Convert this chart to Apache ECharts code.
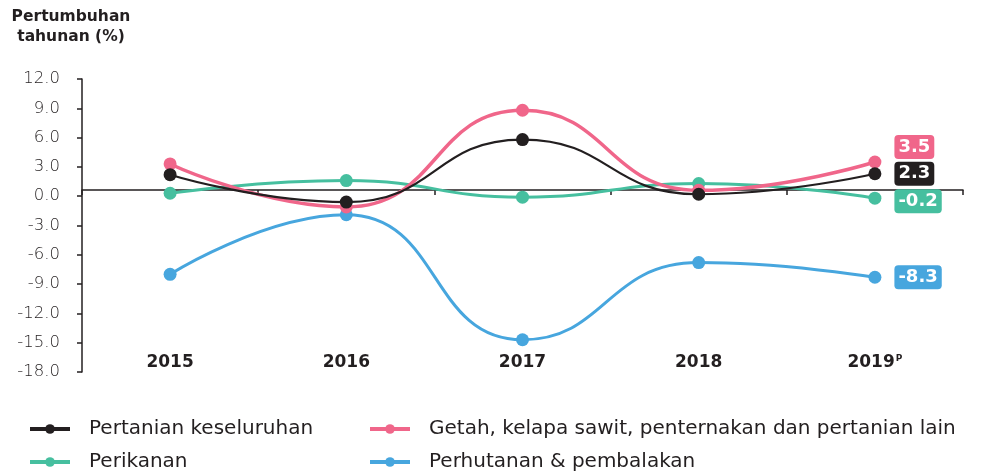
<!DOCTYPE html>
<html>
<head>
<meta charset="utf-8">
<script src="https://cdn.jsdelivr.net/npm/echarts@6/dist/echarts.min.js"></script>
<style>
    html, body {margin: 0; padding: 0; background: #fff;}
    #chart {width: 983px; height: 474px;}
</style>
</head>
<body>
<div id="chart"></div>
<script>
var years = ['2015', '2016', '2017', '2018', '2019'];
var pertanian = [2.2, -0.6, 5.8, 0.2, 2.3];
var getah = [3.3, -1.1, 8.8, 0.6, 3.5];
var perikanan = [0.3, 1.6, -0.1, 1.3, -0.2];
var perhutanan = [-8.0, -1.9, -14.7, -6.8, -8.3];
var yTicks = {min: -18, max: 12, step: 3};

var ink = '#231f20';
var font = '"DejaVu Sans", sans-serif';

// label kotak di titik terakhir
function lastLabel(arr, color, dy) {
    return arr.map(function (v, i) {
        if (i < arr.length - 1) return v;
        return {
            value: v,
            label: {
                show: true, position: 'right', distance: 13, offset: [0, dy],
                formatter: function (p) { return p.value.toFixed(1); },
                backgroundColor: color, borderRadius: 4, padding: [2, 4, 0, 4],
                color: '#fff', fontFamily: font, fontWeight: 'bold', fontSize: 18, lineHeight: 22
            }
        };
    });
}

function line(name, data, color, width, dy) {
    return {
        name: name, type: 'line', smooth: 0.5, data: lastLabel(data, color, dy),
        symbol: 'circle', symbolSize: 13,
        lineStyle: {color: color, width: width},
        itemStyle: {color: color},
        xAxisIndex: 0
    };
}

// satu legenda untuk setiap siri
function legendItem(name, left, top) {
    return {
        left: left, top: top, itemWidth: 40, itemHeight: 12, padding: 0,
        lineStyle: {width: 4},
        data: [name],
        textStyle: {fontFamily: font, fontSize: 20, color: ink, padding: [0, 0, 0, 14]}
    };
}

var chart = echarts.init(document.getElementById('chart'));
chart.setOption({
    animation: false,
    title: {
        text: 'Pertumbuhan\ntahunan (%)', left: 66, top: 2, textAlign: 'center',
        textStyle: {fontFamily: font, fontWeight: 'bold', fontSize: 15.5, lineHeight: 20, color: ink}
    },
    grid: {left: 82, right: 20, top: 79, bottom: 102},
    legend: [
        legendItem('Pertanian keseluruhan', 28, 419),
        legendItem('Perikanan', 28, 452),
        legendItem('Getah, kelapa sawit, penternakan dan pertanian lain', 368, 419),
        legendItem('Perhutanan & pembalakan', 368, 452)
    ],
    xAxis: [
        {
            type: 'category', data: years, position: 'bottom', offset: -182, boundaryGap: true,
            axisLine: {onZero: false, lineStyle: {color: ink, width: 1.5}},
            axisTick: {show: true, length: 5, inside: false, lineStyle: {color: ink, width: 1.5}},
            axisLabel: {show: false}
        },
        {
            type: 'category', data: years, position: 'bottom', offset: -18, boundaryGap: true,
            axisLine: {show: false}, axisTick: {show: false},
            axisLabel: {
                margin: 0, verticalAlign: 'top',
                formatter: function (v) { return v === '2019' ? v + '{sup|P}' : v; },
                fontFamily: font, fontWeight: 'bold', fontSize: 17, color: ink,
                rich: {sup: {fontFamily: font, fontWeight: 'bold', fontSize: 9, color: ink, verticalAlign: 'top', padding: [0, 0, 8, 1]}}
            }
        }
    ],
    yAxis: {
        type: 'value', min: yTicks.min, max: yTicks.max, interval: yTicks.step,
        axisLine: {show: true, lineStyle: {color: ink, width: 1.5}},
        axisTick: {show: true, length: 5, inside: false, lineStyle: {color: ink, width: 1.5}},
        axisLabel: {
            margin: 22, fontFamily: font, fontWeight: 300, fontSize: 16.5, color: ink,
            formatter: function (v) { return v.toFixed(1); }
        },
        splitLine: {show: false}
    },
    series: [
        line('Perhutanan & pembalakan', perhutanan, '#47a6de', 3, 0),
        line('Perikanan', perikanan, '#46bf9f', 3, 3),
        line('Getah, kelapa sawit, penternakan dan pertanian lain', getah, '#f0668a', 3.5, -15),
        line('Pertanian keseluruhan', pertanian, ink, 2.2, 0)
    ]
});
</script>
</body>
</html>
